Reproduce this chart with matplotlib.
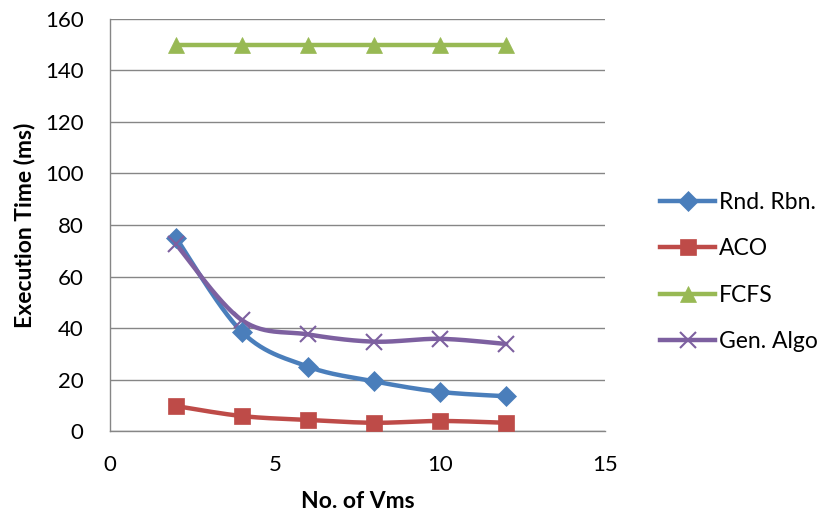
import numpy as np
import matplotlib.pyplot as plt

plt.rcParams['font.family'] = ['Lato', 'DejaVu Sans']

vms = [2, 4, 6, 8, 10, 12]
rnd_rbn = [75, 38.4, 25, 19.3, 15.2, 13.5]
aco = [9.7, 5.8, 4.3, 3.2, 3.9, 3.2]
fcfs = [150, 150, 150, 150, 150, 150]
gen_algo = [72.5, 43, 37.5, 34.7, 35.8, 33.8]

labels = ["Rnd. Rbn.", "ACO", "FCFS", "Gen. Algo"]
colors = ["#4A7EBB", "#BE4B48", "#98B954", "#7D60A0"]
markers = ["D", "s", "^", "x"]
msizes = [10, 12, 11, 12]


def smooth(xs, ys, n=30):
    # catmull-rom style curve through the points, like Excel's smoothed lines
    xs = np.asarray(xs, float)
    ys = np.asarray(ys, float)
    px = np.concatenate([[xs[0]], xs, [xs[-1]]])
    py = np.concatenate([[ys[0]], ys, [ys[-1]]])
    out_x, out_y = [], []
    for i in range(1, len(px) - 2):
        t = np.linspace(0, 1, n)
        b0 = np.array([px[i], py[i]])
        b3 = np.array([px[i + 1], py[i + 1]])
        b1 = b0 + (np.array([px[i + 1], py[i + 1]]) - np.array([px[i - 1], py[i - 1]])) / 6
        b2 = b3 - (np.array([px[i + 2], py[i + 2]]) - np.array([px[i], py[i]])) / 6
        pts = ((1 - t) ** 3)[:, None] * b0 + (3 * (1 - t) ** 2 * t)[:, None] * b1 \
            + (3 * (1 - t) * t ** 2)[:, None] * b2 + (t ** 3)[:, None] * b3
        out_x.extend(pts[:, 0])
        out_y.extend(pts[:, 1])
    return out_x, out_y


fig = plt.figure(figsize=(8.28, 5.17), dpi=100)
ax = fig.add_axes([0.1329, 0.1663, 0.598, 0.797])

series = [rnd_rbn, aco, fcfs, gen_algo]
for ys, lab, c, m, ms in zip(series, labels, colors, markers, msizes):
    sx, sy = smooth(vms, ys)
    ax.plot(sx, sy, color=c, lw=3.2, solid_capstyle="round", zorder=3)
    ax.plot(vms, ys, linestyle="none", marker=m, ms=ms, color=c,
            mew=1.5 if m == "x" else 0.5, zorder=4)
    ax.plot([], [], color=c, lw=3.2, marker=m, ms=ms,
            mew=1.5 if m == "x" else 0.5, label=lab)

ax.set_xlim(0, 15)
ax.set_ylim(0, 160)
ax.set_xticks([0, 5, 10, 15])
ax.set_yticks(range(0, 161, 20))
ax.yaxis.grid(True, color="#868686", lw=1)
ax.set_axisbelow(True)
for s in ["top", "right"]:
    ax.spines[s].set_visible(False)
for s in ["left", "bottom"]:
    ax.spines[s].set_color("#868686")
    ax.spines[s].set_linewidth(1)
ax.tick_params(labelcolor="black", labelsize=16, length=0)
ax.tick_params(axis="y", pad=19)
ax.tick_params(axis="x", pad=17)
ax.set_xlabel("No. of Vms", fontsize=16.5, fontweight="bold", labelpad=12)
ax.set_ylabel("Execution Time (ms)", fontsize=16.5, fontweight="bold", labelpad=7)

ax.legend(loc="center left", bbox_to_anchor=(1.111, 0.386), frameon=False,
          fontsize=16.5, handlelength=2.4, handletextpad=0.15, labelspacing=1.1,
          borderpad=0, borderaxespad=0)

fig.savefig("out.png", dpi=100)
